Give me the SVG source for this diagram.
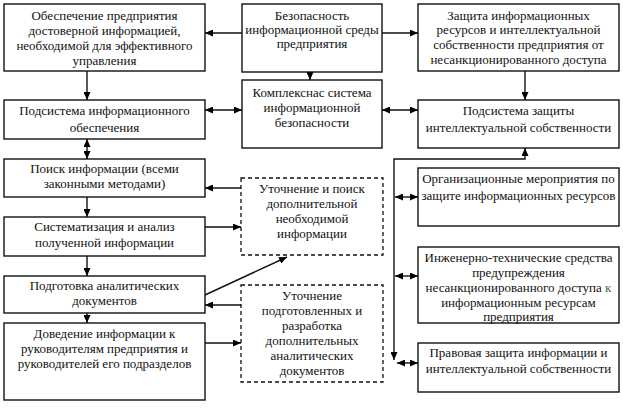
<svg xmlns="http://www.w3.org/2000/svg" width="623" height="409" viewBox="0 0 623 409">
<defs>
<marker id="ah" viewBox="0 0 10 10" refX="10" refY="5" markerWidth="8" markerHeight="7" markerUnits="userSpaceOnUse" orient="auto-start-reverse" preserveAspectRatio="none">
<path d="M0,0 L10,5 L0,10 Z" fill="#000"/>
</marker>
<style>
rect.b{fill:#fff;stroke:#111;stroke-width:1.4}
rect.d{fill:#fff;stroke:#111;stroke-width:1.3;stroke-dasharray:4 3}
text{font-family:"Liberation Serif","Times New Roman",serif;font-size:13px;fill:#111;text-anchor:middle}
.c path{fill:none;stroke:#111;stroke-width:1.4}
.e{marker-end:url(#ah)}
.s{marker-start:url(#ah)}
</style>
</defs>
<rect width="623" height="409" fill="#fff"/>

<g id="b1"><rect class="b" x="4" y="4" width="201" height="67"/>
<text x="104.5" y="19.5">Обеспечение предприятия</text>
<text x="104.5" y="34.5">достоверной информацией,</text>
<text x="104.5" y="49.5">необходимой для эффективного</text>
<text x="104.5" y="64.5">управления</text></g>

<g id="b2"><rect class="b" x="4" y="100" width="201" height="39"/>
<text x="104.5" y="114.5">Подсистема информационного</text>
<text x="104.5" y="131.5">обеспечения</text></g>

<g id="b3"><rect class="b" x="4" y="159" width="201" height="38"/>
<text x="104.5" y="172.5">Поиск информации (всеми</text>
<text x="104.5" y="188">законными методами)</text></g>

<g id="b4"><rect class="b" x="4" y="217" width="201" height="39"/>
<text x="104.5" y="230.5">Систематизация и анализ</text>
<text x="104.5" y="246.5">полученной информации</text></g>

<g id="b5"><rect class="b" x="4" y="276" width="201" height="37"/>
<text x="104.5" y="289.5">Подготовка аналитических</text>
<text x="104.5" y="304.5">документов</text></g>

<g id="b6"><rect class="b" x="4" y="323" width="201" height="77"/>
<text x="104.5" y="337.5">Доведение информации к</text>
<text x="104.5" y="352.5">руководителям предприятия и</text>
<text x="104.5" y="367.5">руководителей его подразделов</text></g>

<g id="m1"><rect class="b" x="242" y="4" width="140" height="68"/>
<text x="312" y="19.5">Безопасность</text>
<text x="312" y="33.5">информационной среды</text>
<text x="312" y="47.5">предприятия</text></g>

<g id="m2"><rect class="b" x="242" y="80" width="140" height="68"/>
<text x="312" y="96.5">Комплекснас система</text>
<text x="312" y="111.5">информационной</text>
<text x="312" y="126.5">безопасности</text></g>

<g id="d1"><rect class="d" x="241" y="178" width="142" height="77"/>
<text x="312" y="192.5">Уточнение и поиск</text>
<text x="312" y="207.5">дополнительной</text>
<text x="312" y="222.5">необходимой</text>
<text x="312" y="237.5">информации</text></g>

<g id="d2"><rect class="d" x="241" y="285" width="142" height="97"/>
<text x="312" y="299.5">Уточнение</text>
<text x="312" y="314.5">подготовленных и</text>
<text x="312" y="329.5">разработка</text>
<text x="312" y="344.5">дополнительных</text>
<text x="312" y="359.5">аналитических</text>
<text x="312" y="374.5">документов</text></g>

<g id="r1"><rect class="b" x="418" y="4" width="201" height="67"/>
<text x="518.5" y="19.5">Защита информационных</text>
<text x="518.5" y="33.5">ресурсов и интеллектуальной</text>
<text x="518.5" y="48.5">собственности предприятия от</text>
<text x="518.5" y="63.5">несанкционированного доступа</text></g>

<g id="r2"><rect class="b" x="418" y="100" width="201" height="48"/>
<text x="518.5" y="114.5">Подсистема защиты</text>
<text x="518.5" y="131.5">интеллектуальной собственности</text></g>

<g id="r3"><rect class="b" x="418" y="168" width="201" height="58"/>
<text x="518.5" y="182.5">Организационные мероприятия по</text>
<text x="518.5" y="199.5">защите информационных ресурсов</text></g>

<g id="r4"><rect class="b" x="418" y="247" width="201" height="76"/>
<text x="518.5" y="261.5">Инженерно-технические средства</text>
<text x="518.5" y="276.5">предупреждения</text>
<text x="518.5" y="291.5">несанкционированного доступа <tspan fill="#2f7a2f">к</tspan></text>
<text x="518.5" y="306.5">информационным ресурсам</text>
<text x="518.5" y="321">предприятия</text></g>

<g id="r5"><rect class="b" x="418" y="343" width="201" height="49"/>
<text x="518.5" y="356.5">Правовая защита информации и</text>
<text x="518.5" y="372.5">интеллектуальной собственности</text></g>

<g id="connectors" class="c">
<path class="e" d="M242,33 H205"/>
<path class="e" d="M382,33 H418"/>
<path class="e" d="M310,72 V80"/>
<path class="e" d="M87,71 V100"/>
<path class="e s" d="M205,110 H242"/>
<path class="e s" d="M382,110 H418"/>
<path class="e" d="M525,71 V100"/>
<path class="e s" d="M87,139 V159"/>
<path class="e" d="M87,197 V217"/>
<path class="e" d="M87,256 V276"/>
<path class="e" d="M87,313 V323"/>
<path class="e" d="M241,188 H205"/>
<path class="e" d="M205,227 H241"/>
<path class="e" d="M205,295 L287,257"/>
<path class="e" d="M241,305 H205"/>
<path class="e" d="M205,343 H241"/>
<path class="e s" d="M394,360 V159 H525 V148"/>
<path class="e s" d="M395,197 H418"/>
<path class="e s" d="M395,276 H418"/>
<path class="e s" d="M397,363 H418"/>
</g>
</svg>
